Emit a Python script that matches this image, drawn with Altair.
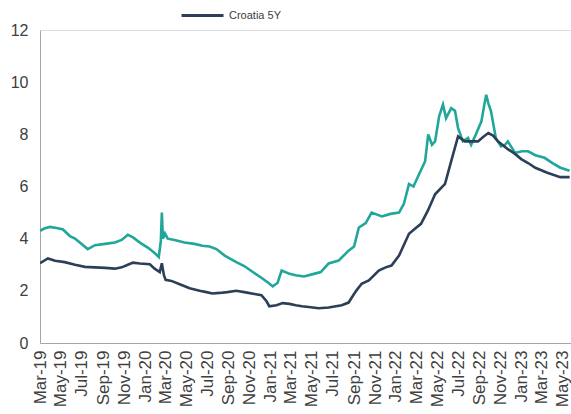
import altair as alt
import pandas as pd

# Croatia 5Y (navy)
navy_dates = ["2019-03-01","2019-03-24","2019-04-14","2019-05-12","2019-06-11","2019-07-10","2019-08-08",
    "2019-09-07","2019-10-05","2019-10-25","2019-11-12","2019-11-27","2019-12-17","2020-01-15","2020-01-29",
    "2020-02-13","2020-02-19","2020-02-25","2020-03-01","2020-03-18","2020-04-11","2020-05-10","2020-06-08",
    "2020-06-28","2020-07-15","2020-08-05","2020-08-28","2020-09-23","2020-10-16","2020-11-15","2020-12-05",
    "2020-12-20","2020-12-28","2021-01-18","2021-02-05","2021-02-25","2021-03-15","2021-04-02","2021-04-22",
    "2021-05-21","2021-06-19","2021-07-27","2021-08-16","2021-09-07","2021-09-23","2021-10-14","2021-11-12",
    "2021-12-02","2021-12-19","2022-01-10","2022-02-08","2022-02-27","2022-03-15","2022-04-05","2022-04-25",
    "2022-05-24","2022-06-11","2022-07-01","2022-07-21","2022-08-14","2022-08-28","2022-09-12","2022-09-27",
    "2022-10-11","2022-10-25","2022-11-23","2022-12-14","2023-01-01","2023-01-21","2023-02-11","2023-03-18",
    "2023-04-25","2023-05-22"]
navy_values = [3.06,3.24,3.15,3.10,3.00,2.92,2.90,
    2.88,2.85,2.90,3.00,3.08,3.05,3.02,2.85,
    2.72,3.06,2.60,2.42,2.38,2.25,2.10,2.00,
    1.95,1.90,1.92,1.95,2.00,1.95,1.88,1.83,
    1.60,1.41,1.45,1.53,1.50,1.45,1.41,1.38,
    1.33,1.36,1.45,1.55,2.00,2.27,2.40,2.78,
    2.90,2.97,3.35,4.19,4.40,4.57,5.10,5.70,
    6.10,6.97,7.92,7.73,7.73,7.73,7.90,8.05,
    7.95,7.73,7.43,7.25,7.05,6.90,6.72,6.53,
    6.36,6.36]

# Second series (teal)
teal_dates = ["2019-03-01","2019-03-15","2019-03-30","2019-04-22","2019-05-07","2019-05-27","2019-06-11",
    "2019-06-25","2019-07-18","2019-08-08","2019-09-07","2019-10-05","2019-10-25","2019-11-12","2019-11-27",
    "2019-12-17","2020-01-10","2020-01-29","2020-02-10","2020-02-16","2020-02-19","2020-02-22","2020-02-28",
    "2020-03-07","2020-03-27","2020-04-25","2020-05-24","2020-06-16","2020-07-07","2020-07-27","2020-08-20",
    "2020-09-23","2020-10-16","2020-11-10","2020-12-05","2020-12-28","2021-01-07","2021-01-21","2021-02-02",
    "2021-02-25","2021-03-15","2021-04-08","2021-05-07","2021-05-27","2021-06-19","2021-07-18","2021-08-16",
    "2021-09-01","2021-09-15","2021-10-05","2021-10-22","2021-11-21","2021-12-16","2022-01-10","2022-01-24",
    "2022-02-08","2022-02-21","2022-03-07","2022-03-27","2022-04-05","2022-04-16","2022-04-25","2022-05-07",
    "2022-05-18","2022-05-27","2022-06-11","2022-06-22","2022-07-01","2022-07-15","2022-07-30","2022-08-08",
    "2022-08-22","2022-09-07","2022-09-15","2022-09-21","2022-09-27","2022-10-05","2022-10-19","2022-11-03",
    "2022-11-15","2022-11-23","2022-12-14","2023-01-04","2023-01-21","2023-02-11","2023-03-10","2023-04-02",
    "2023-04-25","2023-05-22"]
teal_values = [4.30,4.40,4.45,4.40,4.35,4.10,4.00,
    3.85,3.60,3.75,3.80,3.85,3.95,4.15,4.05,
    3.85,3.65,3.45,3.30,3.90,5.00,4.00,4.20,
    4.00,3.95,3.85,3.80,3.73,3.70,3.60,3.35,
    3.10,2.95,2.72,2.50,2.28,2.17,2.30,2.78,
    2.65,2.60,2.55,2.65,2.72,3.05,3.16,3.54,
    3.70,4.43,4.60,5.00,4.85,4.95,5.00,5.33,
    6.10,6.00,6.40,6.97,8.00,7.60,7.73,8.70,
    9.14,8.62,9.00,8.90,8.24,7.73,7.86,7.60,
    8.00,8.50,9.10,9.52,9.20,8.88,7.86,7.54,
    7.60,7.73,7.29,7.35,7.35,7.20,7.10,6.90,
    6.72,6.60]

navy_name = "Croatia 5Y"
teal_name = "Croatia 10Y"

df = pd.concat([
    pd.DataFrame({"date": teal_dates, "value": teal_values, "series": teal_name, "order": 0}),
    pd.DataFrame({"date": navy_dates, "value": navy_values, "series": navy_name, "order": 1}),
])

chart = alt.Chart(df).mark_line(strokeWidth=2.6, clip=True).encode(
    x=alt.X("date:T", title=None,
            scale=alt.Scale(type="utc", domain=[alt.DateTime(year=2019, month=3, date=1, utc=True),
                                                alt.DateTime(year=2023, month=5, date=26, utc=True)]),
            axis=alt.Axis(format="%b-%y", tickCount={"interval": "month", "step": 2},
                          labelAngle=270, labelFontSize=17, labelColor="#404040", labelFont="Liberation Sans",
                          ticks=False, grid=False, domainColor="#a6a6a6", labelPadding=7,
                          labelOverlap=False, labelFlush=False)),
    y=alt.Y("value:Q", title=None,
            scale=alt.Scale(domain=[0, 12], nice=False),
            axis=alt.Axis(values=[0, 2, 4, 6, 8, 10, 12], labelFontSize=16, labelColor="#404040",
                          labelFont="Liberation Sans", ticks=False, grid=False,
                          domainColor="#a6a6a6", labelPadding=12)),
    color=alt.Color("series:N",
                    scale=alt.Scale(domain=[navy_name, teal_name], range=["#2c3f57", "#20a79a"]),
                    legend=alt.Legend(values=[navy_name], title=None, orient="none",
                                      legendX=140, legendY=-37, symbolType="stroke",
                                      symbolSize=1764, symbolStrokeWidth=3, labelFontSize=11,
                                      labelColor="#404040", labelFont="Liberation Sans", labelOffset=4)),
    order="order:Q",
).properties(
    width=531, height=313,
    autosize=alt.AutoSizeParams(type="none"),
    padding={"left": 40, "top": 30, "right": 0, "bottom": 71},
).configure_view(stroke=None).configure(background="white")

chart.save("out.html", embed_options={"renderer": "svg", "actions": False})
